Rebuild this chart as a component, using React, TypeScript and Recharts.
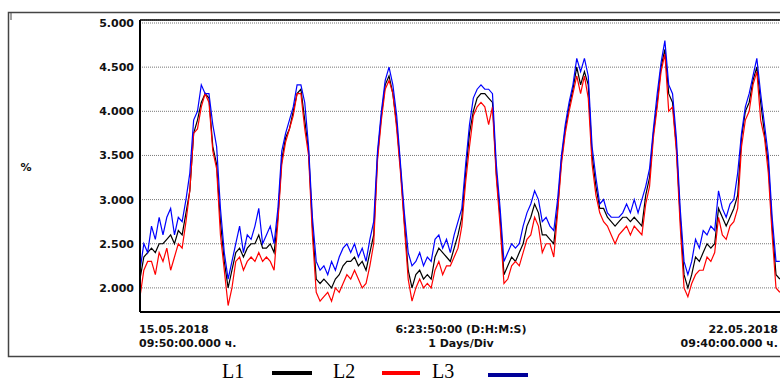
import React from 'react';
import { LineChart, Line, XAxis, YAxis, CartesianGrid } from 'recharts';

// hourly readings, 15.05.2018 09:50 -> 22.05.2018 09:40
const l1 = [
  2.1, 2.35, 2.4, 2.45, 2.4, 2.5, 2.5, 2.55, 2.6, 2.5, 2.65, 2.6, 2.85, 3.1, 3.75, 3.9, 4.1, 4.2, 4.15, 3.6, 3.4, 2.75, 2.3, 2.0,
  2.2, 2.4, 2.45, 2.35, 2.45, 2.5, 2.5, 2.6, 2.45, 2.45, 2.5, 2.4, 2.8, 3.45, 3.7, 3.8, 4.0, 4.2, 4.25, 3.9, 3.55, 2.7, 2.1, 2.05,
  2.1, 2.05, 2.0, 2.1, 2.15, 2.25, 2.3, 2.3, 2.35, 2.25, 2.3, 2.2, 2.4, 2.6, 3.5, 3.95, 4.3, 4.4, 4.2, 3.85, 3.35, 2.75, 2.2, 2.0,
  2.15, 2.2, 2.1, 2.15, 2.1, 2.35, 2.45, 2.4, 2.35, 2.3, 2.45, 2.6, 2.8, 3.3, 3.75, 4.0, 4.15, 4.2, 4.2, 4.15, 4.1, 3.3, 2.8, 2.15,
  2.25, 2.35, 2.3, 2.4, 2.5, 2.7, 2.8, 2.95, 2.85, 2.6, 2.6, 2.55, 2.5, 2.9, 3.45, 3.8, 4.05, 4.25, 4.5, 4.3, 4.45, 4.3, 3.5, 3.15,
  2.9, 2.9, 2.8, 2.75, 2.7, 2.75, 2.8, 2.8, 2.75, 2.8, 2.75, 2.7, 3.05, 3.25, 3.75, 4.1, 4.5, 4.7, 4.2, 4.1, 3.6, 2.8, 2.15, 2.0,
  2.15, 2.35, 2.3, 2.4, 2.5, 2.45, 2.5, 2.9, 2.8, 2.7, 2.8, 2.9, 3.05, 3.7, 4.0, 4.1, 4.35, 4.5, 4.1, 3.75, 3.4, 2.7, 2.15, 2.1,
];
const l2 = [
  1.9, 2.2, 2.3, 2.3, 2.15, 2.4, 2.3, 2.45, 2.2, 2.35, 2.5, 2.45, 2.75, 3.1, 3.75, 3.8, 4.05, 4.2, 4.1, 3.55, 3.35, 2.6, 2.2, 1.8,
  2.0, 2.3, 2.35, 2.2, 2.3, 2.35, 2.3, 2.4, 2.3, 2.35, 2.3, 2.2, 2.75, 3.4, 3.65, 3.8, 3.95, 4.2, 4.2, 3.8, 3.5, 2.6, 1.95, 1.85,
  1.9, 1.95, 1.85, 2.0, 1.95, 2.05, 2.15, 2.1, 2.2, 2.1, 2.0, 2.05, 2.25, 2.5, 3.45, 3.9, 4.25, 4.35, 4.2, 3.8, 3.3, 2.7, 2.1, 1.85,
  2.0, 2.1, 2.0, 2.05, 2.0, 2.2, 2.3, 2.15, 2.25, 2.25, 2.35, 2.45, 2.7, 3.2, 3.6, 3.95, 4.05, 4.1, 4.05, 3.85, 4.05, 3.25, 2.7, 2.05,
  2.1, 2.25, 2.3, 2.25, 2.4, 2.55, 2.6, 2.8, 2.7, 2.4, 2.5, 2.5, 2.35, 2.85, 3.4, 3.75, 4.0, 4.2, 4.4, 4.2, 4.4, 4.15, 3.4, 3.05,
  2.85, 2.75, 2.7, 2.6, 2.5, 2.6, 2.65, 2.7, 2.6, 2.7, 2.65, 2.6, 2.95, 3.15, 3.7, 4.05, 4.45, 4.65, 4.0, 4.05, 3.55, 2.7, 2.0, 1.9,
  2.05, 2.15, 2.2, 2.2, 2.35, 2.3, 2.4, 2.8, 2.6, 2.55, 2.7, 2.75, 2.9, 3.6, 3.9, 4.0, 4.3, 4.45, 3.9, 3.7, 3.3, 2.6, 2.0, 1.95,
];
const l3 = [
  2.2, 2.5, 2.4, 2.7, 2.55, 2.8, 2.6, 2.8, 2.9, 2.6, 2.8, 2.75, 3.0, 3.3, 3.9, 4.0, 4.3, 4.2, 4.2, 3.85, 3.6, 2.9, 2.4, 2.1,
  2.3, 2.5, 2.7, 2.4, 2.6, 2.55, 2.7, 2.9, 2.5, 2.6, 2.7, 2.5, 2.9, 3.55, 3.75, 3.9, 4.05, 4.3, 4.3, 4.1, 3.6, 2.8, 2.3, 2.2,
  2.25, 2.15, 2.3, 2.2, 2.35, 2.45, 2.5, 2.4, 2.5, 2.35, 2.45, 2.3, 2.55, 2.75, 3.55, 4.0, 4.35, 4.5, 4.3, 3.95, 3.4, 2.85, 2.4, 2.25,
  2.3, 2.4, 2.25, 2.35, 2.3, 2.55, 2.6, 2.45, 2.55, 2.4, 2.6, 2.75, 2.9, 3.4, 3.85, 4.15, 4.25, 4.3, 4.25, 4.25, 4.2, 3.4, 2.9, 2.3,
  2.4, 2.5, 2.45, 2.5, 2.7, 2.85, 2.95, 3.1, 3.0, 2.75, 2.8, 2.7, 2.65, 3.0, 3.5, 3.85, 4.1, 4.3, 4.6, 4.45, 4.6, 4.4, 3.6, 3.25,
  2.95, 3.0, 2.85, 2.8, 2.8, 2.8, 2.85, 2.95, 2.85, 3.0, 2.85, 3.0, 3.15, 3.35, 3.8, 4.2, 4.55, 4.8, 4.3, 4.2, 3.7, 2.9, 2.3, 2.15,
  2.3, 2.55, 2.45, 2.65, 2.6, 2.7, 2.65, 3.1, 2.9, 2.8, 2.95, 3.0, 3.3, 3.75, 4.05, 4.2, 4.4, 4.6, 4.2, 3.85, 3.5, 2.8, 2.3, 2.3,
];

const yTicks = [2, 2.5, 3, 3.5, 4, 4.5, 5];
const dayTicks = [24, 48, 72, 96, 120, 144];
const spanHours = 167.83;

const data = l1.map((v, i) => ({ h: i, l1: v, l2: l2[i], l3: l3[i] }));

const boldFont = { fontFamily: 'DejaVu Sans', fontWeight: 'bold', fontSize: 11, fill: '#111' } as const;

const App = () => {
  return (
    <div style={{ position: 'absolute', left: 0, top: 0, width: 780, height: 383, overflow: 'hidden', background: '#fff' }}>
      <LineChart width={790} height={383} data={data} margin={{ top: 20, right: 7, bottom: 41, left: 80 }}>
        <CartesianGrid vertical={false} stroke="#777" strokeDasharray="1 1" />
        <CartesianGrid horizontal={false} stroke="#999" strokeWidth={1.5} />
        <XAxis
          dataKey="h"
          type="number"
          domain={[0, spanHours]}
          ticks={dayTicks}
          tick={false}
          tickLine={false}
          height={30}
          axisLine={{ stroke: '#000', strokeWidth: 2 }}
        />
        <YAxis
          type="number"
          domain={[1.727, 5.034]}
          ticks={yTicks}
          width={60}
          tickLine={false}
          tickSize={4}
          tickMargin={2}
          tickFormatter={(v) => v.toFixed(3)}
          tick={boldFont}
          axisLine={{ stroke: '#000', strokeWidth: 2 }}
        />
        <Line type="linear" dataKey="l1" stroke="#000" strokeWidth={1.2} dot={false} isAnimationActive={false} />
        <Line type="linear" dataKey="l2" stroke="#ff0000" strokeWidth={1.2} dot={false} isAnimationActive={false} />
        <Line type="linear" dataKey="l3" stroke="#0000ff" strokeWidth={1.2} dot={false} isAnimationActive={false} />
      </LineChart>
      <svg width={780} height={383} style={{ position: 'absolute', left: 0, top: 0, pointerEvents: 'none' }}>
        <rect x={8.5} y={12.5} width={800} height={344} fill="none" stroke="#444" strokeWidth={1.5} />
        <line x1={11} y1={13} x2={11} y2={20} stroke="#444" strokeWidth={1} />
        <line x1={140} y1={20} x2={780} y2={20} stroke="#000" strokeWidth={1.5} />
        <text x={26} y={171} textAnchor="middle" style={boldFont}>%</text>
        <text x={139} y={333} style={boldFont}>15.05.2018</text>
        <text x={139} y={347} style={boldFont}>09:50:00.000 ч.</text>
        <text x={461} y={333} textAnchor="middle" style={boldFont}>6:23:50:00 (D:H:M:S)</text>
        <text x={461} y={347} textAnchor="middle" style={boldFont}>1 Days/Div</text>
        <text x={778} y={333} textAnchor="end" style={boldFont}>22.05.2018</text>
        <text x={778} y={347} textAnchor="end" style={boldFont}>09:40:00.000 ч.</text>
        <g style={{ fontFamily: 'Liberation Serif', fontSize: 20, fill: '#000' }}>
          <text x={222} y={378}>L1</text>
          <text x={333} y={378}>L2</text>
          <text x={432} y={378}>L3</text>
        </g>
        <line x1={272} y1={373} x2={312} y2={373} stroke="#000" strokeWidth={4} />
        <line x1={382} y1={373} x2={420} y2={373} stroke="#ff0000" strokeWidth={4} />
        <line x1={488} y1={375} x2={528} y2={375} stroke="#000099" strokeWidth={4} />
      </svg>
    </div>
  );
};

export default App;
